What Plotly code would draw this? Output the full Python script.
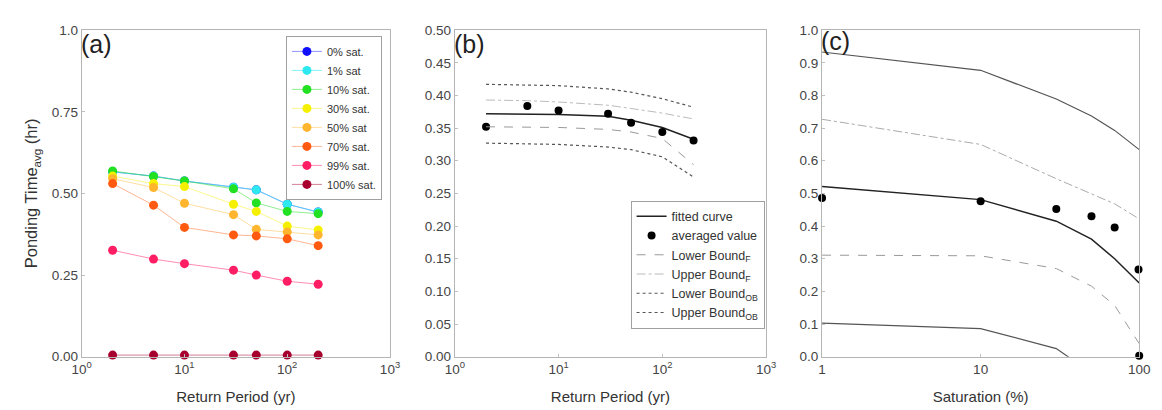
import plotly.graph_objects as go

# ---------------- data ----------------
return_period = [2, 5, 10, 30, 50, 100, 200]

sat_labels = ["0% sat.", "1% sat", "10% sat.", "30% sat.", "50% sat", "70% sat.", "99% sat.", "100% sat."]
sat_colors = ["#1010FF", "#2EE8F0", "#22E022", "#F5F000", "#FFB52E", "#FF5A10", "#FF1E64", "#A8002E"]
sat_line_colors = ["rgba(16,16,255,0.45)", "rgba(46,232,240,0.6)", "rgba(34,224,34,0.5)", "rgba(245,240,0,0.45)",
                   "rgba(255,181,46,0.45)", "rgba(255,90,16,0.45)", "rgba(255,30,100,0.5)", "rgba(168,0,46,0.5)"]
pt_0 = [0.566, 0.553, 0.538, 0.519, 0.511, 0.467, 0.443]
pt_1 = [0.566, 0.553, 0.538, 0.519, 0.511, 0.467, 0.443]
pt_10 = [0.569, 0.552, 0.538, 0.514, 0.471, 0.445, 0.438]
pt_30 = [0.553, 0.530, 0.521, 0.467, 0.445, 0.400, 0.388]
pt_50 = [0.545, 0.518, 0.470, 0.435, 0.390, 0.382, 0.373]
pt_70 = [0.530, 0.464, 0.396, 0.373, 0.370, 0.361, 0.340]
pt_99 = [0.326, 0.299, 0.285, 0.265, 0.250, 0.231, 0.222]
pt_100 = [0.005, 0.005, 0.005, 0.005, 0.005, 0.005, 0.005]
sat_series = [pt_0, pt_1, pt_10, pt_30, pt_50, pt_70, pt_99, pt_100]

# panel (b)
b_avg = [0.352, 0.384, 0.377, 0.372, 0.358, 0.344, 0.331]
b_fit = [0.372, 0.372, 0.371, 0.368, 0.362, 0.351, 0.333]
b_lower_f = [0.352, 0.352, 0.351, 0.348, 0.344, 0.334, 0.294]
b_upper_f = [0.393, 0.392, 0.390, 0.385, 0.380, 0.373, 0.364]
b_lower_ob = [0.327, 0.326, 0.325, 0.321, 0.317, 0.306, 0.275]
b_upper_ob = [0.417, 0.416, 0.415, 0.410, 0.405, 0.395, 0.382]

# panel (c)
saturation_pts = [1, 10, 30, 50, 70, 99, 100]
c_avg = [0.486, 0.476, 0.452, 0.430, 0.396, 0.267, 0.003]
saturation_curve = [1, 10, 30, 50, 70, 100]
c_fit = [0.521, 0.481, 0.415, 0.360, 0.300, 0.226]
c_upper_ob = [0.933, 0.877, 0.789, 0.737, 0.693, 0.634]
c_upper_f = [0.727, 0.650, 0.545, 0.500, 0.468, 0.422]
c_lower_f = [0.311, 0.309, 0.270, 0.216, 0.157, 0.040]
c_lower_ob = [0.103, 0.086, 0.025, -0.050, -0.120, -0.250]

# ---------------- figure ----------------
fig = go.Figure()

for lab, col, lcol, ys in zip(sat_labels, sat_colors, sat_line_colors, sat_series):
    fig.add_trace(go.Scatter(x=return_period, y=ys, name=lab, mode="lines+markers",
                             line=dict(color=lcol, width=1),
                             marker=dict(color=col, size=9),
                             xaxis="x", yaxis="y", legend="legend", cliponaxis=False))

black_line = dict(color="#222222", width=1.5)
fig.add_trace(go.Scatter(x=return_period, y=b_fit, name="fitted curve", mode="lines",
                         line=black_line, xaxis="x2", yaxis="y2", legend="legend2"))
fig.add_trace(go.Scatter(x=return_period, y=b_avg, name="averaged value", mode="markers",
                         marker=dict(color="black", size=8), xaxis="x2", yaxis="y2", legend="legend2"))
fig.add_trace(go.Scatter(x=return_period, y=b_lower_f, name="Lower Bound<sub>F</sub>", mode="lines",
                         line=dict(color="#999999", width=1, dash="dash"), xaxis="x2", yaxis="y2", legend="legend2"))
fig.add_trace(go.Scatter(x=return_period, y=b_upper_f, name="Upper Bound<sub>F</sub>", mode="lines",
                         line=dict(color="#bbbbbb", width=1, dash="dashdot"), xaxis="x2", yaxis="y2", legend="legend2"))
fig.add_trace(go.Scatter(x=return_period, y=b_lower_ob, name="Lower Bound<sub>OB</sub>", mode="lines",
                         line=dict(color="#555555", width=1.2, dash="dot"), xaxis="x2", yaxis="y2", legend="legend2"))
fig.add_trace(go.Scatter(x=return_period, y=b_upper_ob, name="Upper Bound<sub>OB</sub>", mode="lines",
                         line=dict(color="#555555", width=1.2, dash="dot"), xaxis="x2", yaxis="y2", legend="legend2"))

fig.add_trace(go.Scatter(x=saturation_curve, y=c_upper_ob, mode="lines", showlegend=False,
                         line=dict(color="#555555", width=1.2), xaxis="x3", yaxis="y3"))
fig.add_trace(go.Scatter(x=saturation_curve, y=c_upper_f, mode="lines", showlegend=False,
                         line=dict(color="#aaaaaa", width=1, dash="dashdot"), xaxis="x3", yaxis="y3"))
fig.add_trace(go.Scatter(x=saturation_curve, y=c_fit, mode="lines", showlegend=False,
                         line=black_line, xaxis="x3", yaxis="y3"))
fig.add_trace(go.Scatter(x=saturation_curve, y=c_lower_f, mode="lines", showlegend=False,
                         line=dict(color="#999999", width=1, dash="dash"), xaxis="x3", yaxis="y3"))
fig.add_trace(go.Scatter(x=saturation_curve, y=c_lower_ob, mode="lines", showlegend=False,
                         line=dict(color="#555555", width=1.2), xaxis="x3", yaxis="y3"))
fig.add_trace(go.Scatter(x=saturation_pts, y=c_avg, mode="markers", showlegend=False,
                         marker=dict(color="black", size=8), xaxis="x3", yaxis="y3", cliponaxis=False))

H = 410.0
ytop, ybot = 1 - 24 / H, 1 - 363 / H
tickfont = dict(family="Arial, Liberation Sans, sans-serif", size=13.5, color="#444444")
titlefont = dict(family="Arial, Liberation Sans, sans-serif", size=15, color="#333333")
common = dict(showline=True, mirror=True, linecolor="#b5b5b5", linewidth=1, ticks="inside",
              ticklen=3, tickcolor="#c0c0c0", showgrid=False, zeroline=False, tickfont=tickfont)

fig.update_layout(
    width=1162, height=410, margin=dict(l=0, r=0, t=0, b=0),
    paper_bgcolor="white", plot_bgcolor="white",
    font=dict(family="Arial, Liberation Sans, sans-serif", color="#333333"),
    xaxis=dict(domain=[73 / 1162, 387 / 1162], type="log", range=[0, 3], anchor="y",
               tickvals=[1, 10, 100, 1000],
               ticktext=["10<sup>0</sup>", "10<sup>1</sup>", "10<sup>2</sup>", "10<sup>3</sup>"],
               title=dict(text="Return Period (yr)", font=titlefont, standoff=15), **common),
    yaxis=dict(domain=[ybot, ytop], range=[0, 1], anchor="x",
               tickvals=[0, 0.25, 0.5, 0.75, 1.0], ticktext=["0.00", "0.25", "0.50", "0.75", "1.0"],
               title=dict(text="Ponding Time<sub>avg</sub> (hr)", font=dict(size=16.5, color="#333333",
                          family="Arial, Liberation Sans, sans-serif"), standoff=9), **common),
    xaxis2=dict(domain=[453 / 1162, 770 / 1162], type="log", range=[0, 3], anchor="y2",
                tickvals=[1, 10, 100, 1000],
                ticktext=["10<sup>0</sup>", "10<sup>1</sup>", "10<sup>2</sup>", "10<sup>3</sup>"],
                title=dict(text="Return Period (yr)", font=titlefont, standoff=15), **common),
    yaxis2=dict(domain=[ybot, ytop], range=[0, 0.5], anchor="x2", dtick=0.05, tickformat=".2f", **common),
    xaxis3=dict(domain=[827 / 1162, 1150 / 1162], type="log", range=[0, 2], anchor="y3",
                tickvals=[1, 10, 100], ticktext=["1", "10", "100"],
                title=dict(text="Saturation (%)", font=titlefont, standoff=15), **common),
    yaxis3=dict(domain=[ybot, ytop], range=[0, 1], anchor="x3", dtick=0.1, tickformat=".1f", **common),
    legend=dict(x=281 / 1162, y=1 - 30 / H, xanchor="left", yanchor="top", bgcolor="white",
                bordercolor="#a0a0a0", borderwidth=1, font=dict(size=11, color="#333333"),
                itemwidth=30, tracegroupgap=0),
    legend2=dict(x=632 / 1162, y=1 - 201 / H, xanchor="left", yanchor="top", bgcolor="white",
                 bordercolor="#a0a0a0", borderwidth=1, font=dict(size=12.5, color="#333333"),
                 itemwidth=30),
    annotations=[
        dict(text="(a)", x=70 / 1162, y=1 - 22 / H, xref="paper", yref="paper", xanchor="left",
             yanchor="top", showarrow=False, font=dict(size=25, color="#222222")),
        dict(text="(b)", x=450 / 1162, y=1 - 22 / H, xref="paper", yref="paper", xanchor="left",
             yanchor="top", showarrow=False, font=dict(size=25, color="#222222")),
        dict(text="(c)", x=824 / 1162, y=1 - 19 / H, xref="paper", yref="paper", xanchor="left",
             yanchor="top", showarrow=False, font=dict(size=25, color="#222222")),
    ],
)

fig.write_html("out.html")
